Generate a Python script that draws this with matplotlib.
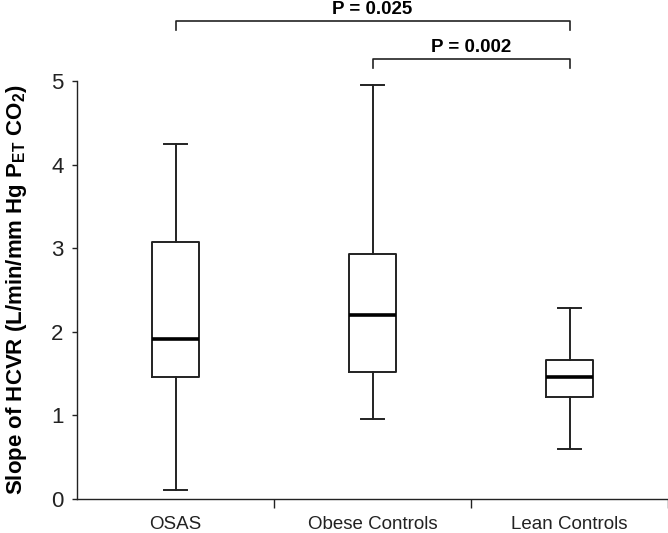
""" box plot of HCVR slope for three groups """

import matplotlib
matplotlib.use("Agg")
import matplotlib.pyplot as plt
from matplotlib import font_manager

# data (whisker min, Q1, median, Q3, whisker max)
groups = ["OSAS", "Obese Controls", "Lean Controls"]
whislo = [0.11, 0.96, 0.60]
q1 = [1.46, 1.52, 1.22]
med = [1.91, 2.20, 1.46]
q3 = [3.07, 2.93, 1.66]
whishi = [4.25, 4.95, 2.28]

# significance brackets: (group a, group b, label)
pairs = [(1, 3, "P = 0.025"), (2, 3, "P = 0.002")]
bracket_y = [5.72, 5.26]

names = {f.name for f in font_manager.fontManager.ttflist}
FONT = "Liberation Sans Narrow" if "Liberation Sans Narrow" in names else "Liberation Sans"
plt.rcParams["font.family"] = [FONT, "DejaVu Sans"]
plt.rcParams["mathtext.fontset"] = "custom"
plt.rcParams["mathtext.rm"] = FONT
plt.rcParams["mathtext.bf"] = FONT + ":bold"

INK = "#222222"

stats = []
for i, g in enumerate(groups):
    stats.append(
        {
            "label": g,
            "whislo": whislo[i],
            "q1": q1[i],
            "med": med[i],
            "q3": q3[i],
            "whishi": whishi[i],
            "fliers": [],
        }
    )

fig = plt.figure(figsize=(6.68, 5.33), dpi=100)
ax = fig.add_axes([77 / 668, 1 - 499 / 533, 1 - 77 / 668, (499 - 81) / 533])

ax.bxp(
    stats,
    positions=[1, 2, 3],
    widths=0.235,
    capwidths=0.115,
    showfliers=False,
    boxprops=dict(color=INK, linewidth=1.4),
    whiskerprops=dict(color=INK, linewidth=1.4),
    capprops=dict(color=INK, linewidth=1.4),
    medianprops=dict(color="black", linewidth=2.6),
)

ax.set_xlim(0.5, 3.5)
ax.set_ylim(0, 5)
ax.spines["top"].set_visible(False)
ax.spines["right"].set_visible(False)
for side in ["left", "bottom"]:
    ax.spines[side].set_color(INK)
    ax.spines[side].set_linewidth(1.0)

# x: ticks at group boundaries, labels at centres
ax.set_xticks([1.5, 2.5, 3.5])
ax.set_xticklabels([])
ax.set_xticks([1, 2, 3], minor=True)
ax.set_xticklabels(groups, minor=True)
ax.tick_params(axis="x", which="major", length=6.3, width=1.0, color=INK)
ax.tick_params(axis="x", which="minor", length=0, pad=12, labelsize=13.5, labelcolor=INK)
ax.set_yticks([0, 1, 2, 3, 4, 5])
ax.tick_params(axis="y", length=3.6, width=1.0, color=INK, pad=6, labelsize=16, labelcolor=INK)

ax.set_ylabel(
    r"Slope of HCVR (L/min/mm Hg P$_{\mathbf{ET}}$ CO$_{\mathbf{2}}$)",
    fontsize=16,
    fontweight="bold",
)
ax.yaxis.set_label_coords((29 - 77) / 591, 0.5)

for (a, b, txt), yb in zip(pairs, bracket_y):
    ax.plot([a, a, b, b], [yb - 0.11, yb, yb, yb - 0.11], color=INK,
            linewidth=1.2, clip_on=False)
    ax.text((a + b) / 2, yb + 0.085, txt, ha="center", va="baseline",
            fontsize=13.5, fontweight="bold", color="black")

fig.savefig("out.png", dpi=100)
